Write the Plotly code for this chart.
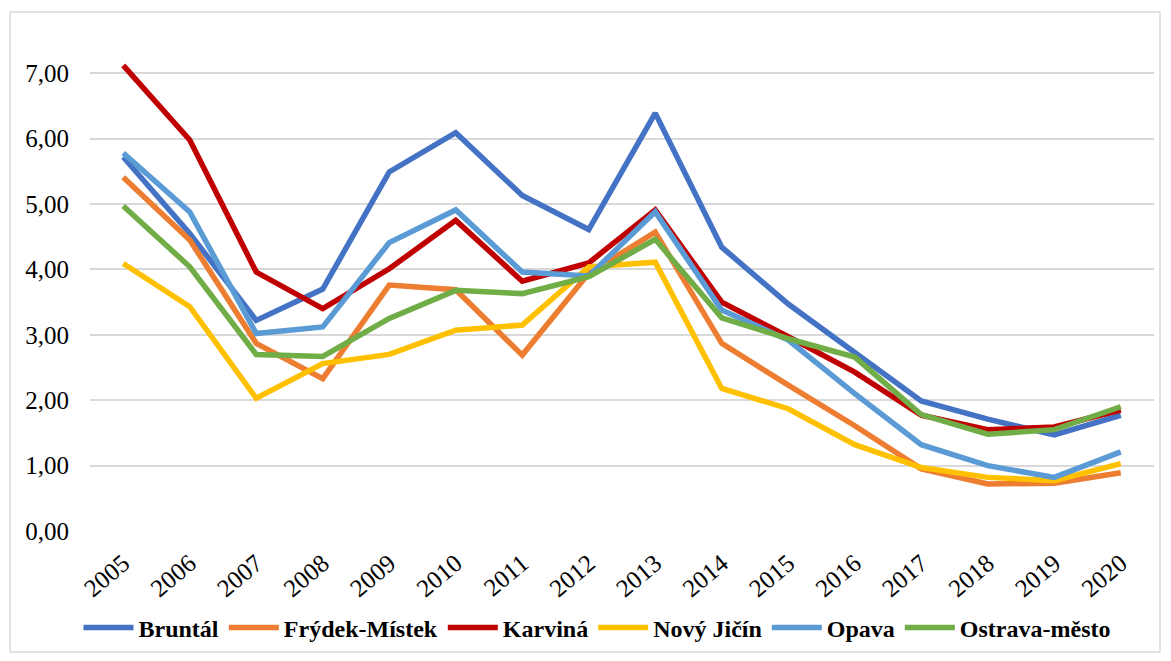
import plotly.graph_objects as go

years = [str(y) for y in range(2005, 2021)]

bruntal = [5.72, 4.55, 3.22, 3.70, 5.49, 6.09, 5.13, 4.61, 6.39, 4.34, 3.47, 2.72, 1.99, 1.71, 1.47, 1.77]
frydek = [5.41, 4.45, 2.87, 2.33, 3.76, 3.69, 2.69, 3.94, 4.57, 2.87, 2.23, 1.61, 0.95, 0.72, 0.73, 0.89]
karvina = [7.12, 5.98, 3.96, 3.40, 4.01, 4.75, 3.82, 4.10, 4.91, 3.50, 2.97, 2.43, 1.77, 1.55, 1.59, 1.85]
novy_jicin = [4.09, 3.43, 2.03, 2.56, 2.70, 3.07, 3.15, 4.04, 4.11, 2.18, 1.87, 1.32, 0.97, 0.82, 0.77, 1.03]
opava = [5.78, 4.88, 3.02, 3.12, 4.41, 4.91, 3.96, 3.90, 4.88, 3.38, 2.92, 2.10, 1.32, 1.00, 0.82, 1.21]
ostrava = [4.97, 4.04, 2.70, 2.67, 3.25, 3.68, 3.63, 3.89, 4.46, 3.26, 2.94, 2.66, 1.78, 1.48, 1.55, 1.90]

series = [
    ("Bruntál", bruntal, "#4472C4"),
    ("Frýdek-Místek", frydek, "#ED7D31"),
    ("Karviná", karvina, "#C00000"),
    ("Nový Jičín", novy_jicin, "#FFC000"),
    ("Opava", opava, "#5B9BD5"),
    ("Ostrava-město", ostrava, "#70AD47"),
]

fig = go.Figure()
for name, vals, color in series:
    fig.add_trace(go.Scatter(x=years, y=vals, name=name, mode="lines",
                             line=dict(color=color, width=5.5)))

W, H = 1163, 653
L, R, T, B = 82, 17, 26, 130
pw, ph = W - L - R, H - T - B

fig.update_layout(
    width=W, height=H,
    margin=dict(l=L, r=R, t=T, b=B, autoexpand=False),
    paper_bgcolor="white", plot_bgcolor="white",
    separators=", ",
    font=dict(family="Liberation Serif", size=25, color="black"),
    showlegend=True,
    legend=dict(orientation="h", xref="container", x=589 / W, xanchor="center",
                y=-97 / ph, yanchor="middle",
                font=dict(family="Liberation Serif", size=24, color="black", weight="bold"),
                itemwidth=50, tracegroupgap=0),
    xaxis=dict(type="category", range=[-0.5, 15.5], tickangle=-40, showgrid=False,
               zeroline=False, showline=False, ticks="", ticklabelstandoff=12,
               automargin=False,
               tickfont=dict(family="Liberation Serif", size=25)),
    yaxis=dict(range=[0, 7.6], dtick=1, tick0=0, tickformat=".2f",
               showgrid=True, gridcolor="#D9D9D9", gridwidth=1.5,
               zeroline=False, showline=False, ticks="", ticklabelstandoff=20,
               automargin=False,
               tickfont=dict(family="Liberation Serif", size=25)),
    shapes=[dict(type="rect", xref="paper", yref="paper",
                 x0=(2 - L) / pw, x1=(1152 - L) / pw,
                 y0=-(644 - (H - B)) / ph, y1=1 + (T - 4) / ph,
                 line=dict(color="#D9D9D9", width=1.5), fillcolor="rgba(0,0,0,0)")],
)

fig.write_html("out.html")
